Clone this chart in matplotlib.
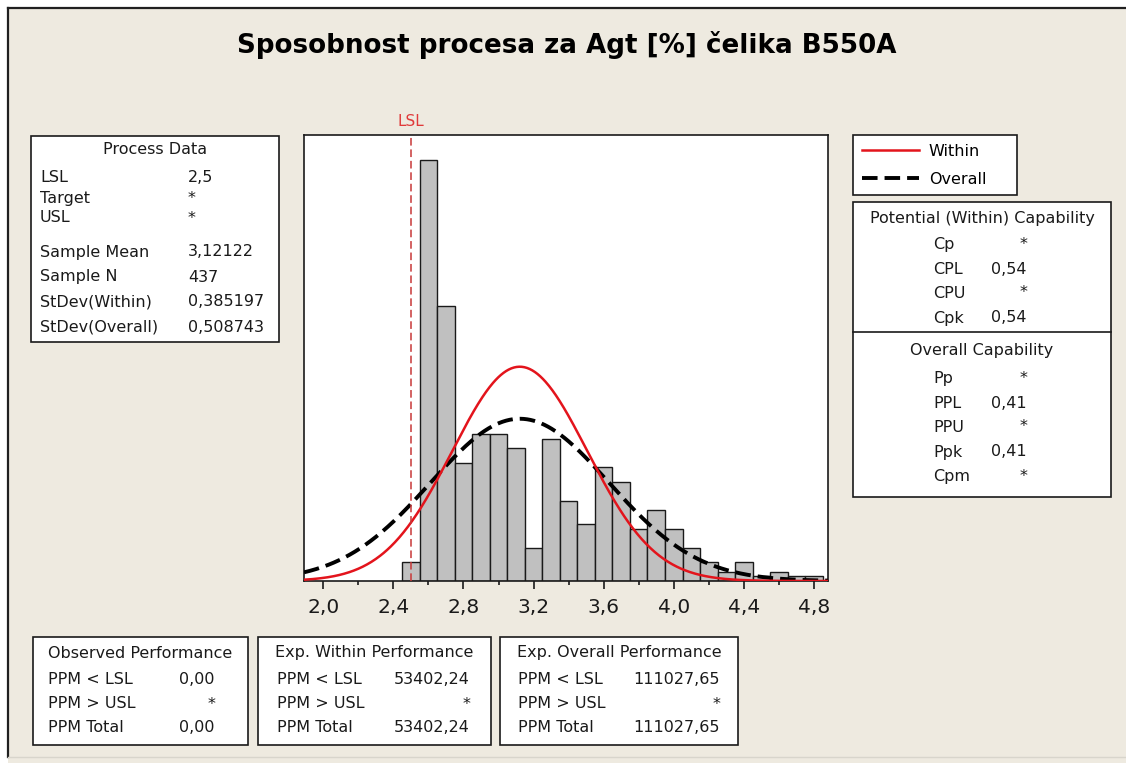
import numpy as np
import matplotlib
matplotlib.use("Agg")
import matplotlib.pyplot as plt
from matplotlib.patches import Rectangle
from matplotlib.ticker import FixedLocator, FuncFormatter

# ---------------- data ----------------
title = "Sposobnost procesa za Agt [%] čelika B550A"
bin_centers = [2.5, 2.6, 2.7, 2.8, 2.9, 3.0, 3.1, 3.2, 3.3, 3.4, 3.5, 3.6,
               3.7, 3.8, 3.9, 4.0, 4.1, 4.2, 4.3, 4.4, 4.5, 4.6, 4.7, 4.8]
counts = [4, 89, 58, 25, 31, 31, 28, 7, 30, 17, 12, 24,
          21, 11, 15, 11, 7, 4, 2, 4, 1, 2, 1, 1]
bin_width = 0.1
lsl = 2.5
sample_mean = 3.12122
sample_n = 437
sd_within = 0.385197
sd_overall = 0.508743
x_ticks = [2.0, 2.4, 2.8, 3.2, 3.6, 4.0, 4.4, 4.8]

legend_labels = ["Within", "Overall"]
process_title = "Process Data"
process_labels = ["LSL", "Target", "USL", "Sample Mean", "Sample N",
                  "StDev(Within)", "StDev(Overall)"]
process_values = ["2,5", "*", "*", "3,12122", "437", "0,385197", "0,508743"]
within_cap_title = "Potential (Within) Capability"
within_cap_labels = ["Cp", "CPL", "CPU", "Cpk"]
within_cap_values = ["*", "0,54", "*", "0,54"]
overall_cap_title = "Overall Capability"
overall_cap_labels = ["Pp", "PPL", "PPU", "Ppk", "Cpm"]
overall_cap_values = ["*", "0,41", "*", "0,41", "*"]
perf_titles = ["Observed Performance", "Exp. Within Performance",
               "Exp. Overall Performance"]
perf_labels = ["PPM < LSL", "PPM > USL", "PPM Total"]
observed_values = ["0,00", "*", "0,00"]
within_perf_values = ["53402,24", "*", "53402,24"]
overall_perf_values = ["111027,65", "*", "111027,65"]

# ---------------- figure ----------------
W, H = 1126, 763
plt.rcParams["font.family"] = ["DejaVu Sans"]
fig = plt.figure(figsize=(W / 100, H / 100), dpi=100, facecolor="white")

BG = "#EEEAE0"
TXT = "#1a1a1a"
FS = 11.5

# overlay in pixel coordinates for panels / text
ov = fig.add_axes([0, 0, 1, 1], zorder=0)
ov.set_xlim(0, W)
ov.set_ylim(H, 0)
ov.axis("off")
ov.add_patch(Rectangle((8, 8), W - 8, H - 8, facecolor=BG, edgecolor="none"))
ov.plot([8, W], [8, 8], color="#202020", lw=1.6)
ov.plot([8, 8], [8, 757], color="#202020", lw=1.6)
ov.plot([8, W], [757, 757], color="#d8d5cc", lw=1.0)

# main axes
ax = fig.add_axes([304 / W, 1 - 581 / H, (828 - 304) / W, (581 - 135) / H], zorder=2)
ax.set_facecolor("white")
ax.bar(bin_centers, counts, width=bin_width, color="#C0C0C0",
       edgecolor="#1a1a1a", linewidth=1.0, zorder=2)

xmin, xmax = 1.89, 4.88
ax.set_xlim(xmin, xmax)
ax.set_ylim(0, 94.2)

xs = np.linspace(xmin, xmax, 600)
scale = sample_n * bin_width
pdf_w = scale * np.exp(-0.5 * ((xs - sample_mean) / sd_within) ** 2) / (sd_within * np.sqrt(2 * np.pi))
pdf_o = scale * np.exp(-0.5 * ((xs - sample_mean) / sd_overall) ** 2) / (sd_overall * np.sqrt(2 * np.pi))
l_within, = ax.plot(xs, pdf_w, color="#E3141C", lw=1.8, zorder=4)
l_overall, = ax.plot(xs, pdf_o, color="black", lw=2.8,
                     linestyle=(0, (4.0, 1.8)), zorder=3)

ax.axvline(lsl, color="#C83838", lw=1.1, linestyle=(0, (5, 2.5)), zorder=5)
ax.text(lsl, 1 + 13 / 446, "LSL", transform=ax.get_xaxis_transform(),
        ha="center", va="center", color="#E03A3A", fontsize=11)

for s in ax.spines.values():
    s.set_color("#1a1a1a")
    s.set_linewidth(1.2)
ax.yaxis.set_visible(False)
ax.xaxis.set_major_locator(FixedLocator(x_ticks))
ax.xaxis.set_minor_locator(FixedLocator([t + 0.2 for t in x_ticks]))
ax.xaxis.set_major_formatter(FuncFormatter(lambda v, p: f"{v:.1f}".replace(".", ",")))
ax.tick_params(axis="x", which="major", direction="out", length=6, width=1.2,
               labelsize=14.5, pad=6, colors="#1a1a1a")
ax.tick_params(axis="x", which="minor", direction="out", length=3, width=1.2,
               colors="#1a1a1a")

# title (fit to reference width)
t = fig.text(567 / W, 1 - 45 / H, title, ha="center", va="center",
             fontsize=17, fontweight="bold", color="black")
fig.canvas.draw()
wpx = t.get_window_extent().width
t.set_fontsize(17 * 660 / wpx)

# legend
leg = fig.legend(handles=[l_within, l_overall], labels=legend_labels,
                 loc="upper left",
                 bbox_to_anchor=(853 / W, 1 - 197 / H, (1017 - 853) / W, (197 - 135) / H),
                 mode="expand", borderaxespad=0, frameon=True, fancybox=False,
                 edgecolor="#1a1a1a", facecolor="white", framealpha=1,
                 fontsize=FS, handlelength=3.6, handletextpad=0.6,
                 borderpad=0.55, labelspacing=0.8)
leg.get_frame().set_linewidth(1.2)


def box(x0, y0, x1, y1):
    ov.add_patch(Rectangle((x0, y0), x1 - x0, y1 - y0, facecolor="white",
                           edgecolor="#1a1a1a", lw=1.2))


def txt(x, y, s, ha="left"):
    ov.text(x, y, s, ha=ha, va="center", fontsize=FS, color=TXT)


# Process data
box(31, 136, 279, 342)
txt(155, 150, process_title, ha="center")
for lab, val, y in zip(process_labels, process_values, [177, 199, 218, 252, 277, 302, 327]):
    txt(40, y, lab)
    txt(188, y, val)

# Capability box
box(853, 202, 1111, 497)
ov.plot([853, 1111], [332, 332], color="#1a1a1a", lw=1.2)
txt(982, 219, within_cap_title, ha="center")
for lab, val, y in zip(within_cap_labels, within_cap_values, [244, 269, 293, 318]):
    txt(933, y, lab)
    txt(1027, y, val, ha="right")
txt(982, 351, overall_cap_title, ha="center")
for lab, val, y in zip(overall_cap_labels, overall_cap_values, [378, 403, 427, 452, 477]):
    txt(933, y, lab)
    txt(1027, y, val, ha="right")

# Performance boxes
perf_boxes = [(33, 248, 48, 215), (258, 491, 277, 470), (500, 738, 518, 720)]
perf_vals = [observed_values, within_perf_values, overall_perf_values]
for (x0, x1, lx, vx), ttl, vals in zip(perf_boxes, perf_titles, perf_vals):
    box(x0, 637, x1, 745)
    txt((x0 + x1) / 2, 653, ttl, ha="center")
    for lab, val, y in zip(perf_labels, vals, [680, 704, 728]):
        txt(lx, y, lab)
        txt(vx, y, val, ha="right")

fig.savefig("out.png", dpi=100, facecolor=fig.get_facecolor())
